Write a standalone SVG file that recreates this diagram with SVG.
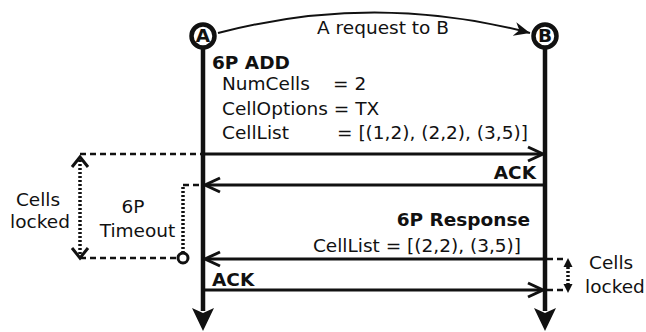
<svg xmlns="http://www.w3.org/2000/svg" width="646" height="332" viewBox="0 0 646 332">
<defs>
<style>
text{font-family:"DejaVu Sans",Verdana,sans-serif;font-size:18.5px;fill:#111}
.b{font-weight:bold}
.life{stroke:#111;stroke-width:4.5;fill:none}
.msg{stroke:#111;stroke-width:3;fill:none}
.chev{stroke:#111;stroke-width:3;fill:none}
.dash{stroke:#111;stroke-width:2.5;stroke-dasharray:6,4;fill:none}
.dot{stroke:#111;stroke-width:3.5;stroke-dasharray:2,2;fill:none}
.head{fill:#111}
.node{fill:#fff;stroke:#111;stroke-width:4.5}
</style>
<marker id="stealth" markerUnits="userSpaceOnUse" markerWidth="20" markerHeight="20" viewBox="-18 -10 20 20" refX="0" refY="0" orient="auto" overflow="visible">
<path d="M0,0 L-16,-7 L-11,0 L-16,7 Z" fill="#111"/>
</marker>
</defs>
<rect width="646" height="332" fill="#fff"/>
<g id="A">
<line class="life" x1="203" y1="48" x2="203" y2="311"/>
<path class="head" d="M192,308 L203,331 L214,308 L203,313 Z"/>
<circle class="node" cx="203" cy="36" r="11.5"/>
<text class="b" x="203" y="42" text-anchor="middle" font-size="16">A</text>
</g>
<g id="B">
<line class="life" x1="545" y1="48" x2="545" y2="311"/>
<path class="head" d="M534,308 L545,331 L556,308 L545,313 Z"/>
<circle class="node" cx="545" cy="36" r="11.5"/>
<text class="b" x="545" y="42" text-anchor="middle" font-size="16">B</text>
</g>
<g id="connectors">
<path d="M218,33 Q375,-8 530,33" stroke="#111" stroke-width="2" fill="none" marker-end="url(#stealth)"/>
<line class="msg" x1="203" y1="154" x2="542" y2="154"/>
<path class="chev" d="M528,147 L543,154 L528,161"/>
<line class="dash" x1="80" y1="154" x2="201" y2="154"/>
<line class="msg" x1="545" y1="185" x2="206" y2="185"/>
<path class="chev" d="M220,178 L205,185 L220,192"/>
<line class="dash" x1="183" y1="185" x2="201" y2="185"/>
<line class="dot" x1="183" y1="187" x2="183" y2="253"/>
<line class="dash" x1="80" y1="258" x2="177" y2="258"/>
<circle cx="183" cy="258" r="5" fill="#fff" stroke="#111" stroke-width="3"/>
<line class="dot" x1="80" y1="160" x2="80" y2="255"/>
<path class="chev" d="M72,167 L80,157 L88,167" stroke-width="3.5"/>
<path class="chev" d="M72,248 L80,258 L88,248" stroke-width="3.5"/>
<line class="msg" x1="545" y1="259" x2="206" y2="259"/>
<path class="chev" d="M220,252 L205,259 L220,266"/>
<line class="dash" x1="547" y1="259" x2="564" y2="259"/>
<line class="msg" x1="203" y1="290" x2="542" y2="290"/>
<path class="chev" d="M528,283 L543,290 L528,297"/>
<line class="dash" x1="547" y1="290" x2="564" y2="290"/>
<path class="head" d="M563.5,267 L568,258 L572.5,267 Z"/>
<line class="dot" x1="568" y1="267" x2="568" y2="284" stroke-width="3"/>
<path class="head" d="M563.5,284 L568,293 L572.5,284 Z"/>
</g>
<g id="labels">
<text x="383" y="34" text-anchor="middle" font-size="16.5">A request to B</text>
<text class="b" x="212" y="69">6P ADD</text>
<text x="222" y="90">NumCells</text><text x="333" y="90">= 2</text>
<text x="222" y="115">CellOptions = TX</text>
<text x="222" y="139">CellList</text><text x="337" y="139">= [(1,2), (2,2), (3,5)]</text>
<text class="b" x="536" y="179" text-anchor="end">ACK</text>
<text x="38" y="206" text-anchor="middle">Cells</text>
<text x="40" y="228" text-anchor="middle">locked</text>
<text x="133" y="213" text-anchor="middle">6P</text>
<text x="137.5" y="237" text-anchor="middle">Timeout</text>
<text class="b" x="530" y="226" text-anchor="end">6P Response</text>
<text x="521" y="252" text-anchor="end">CellList = [(2,2), (3,5)]</text>
<text class="b" x="212" y="286">ACK</text>
<text x="589" y="269">Cells</text>
<text x="585" y="293">locked</text>
</g>
</svg>
